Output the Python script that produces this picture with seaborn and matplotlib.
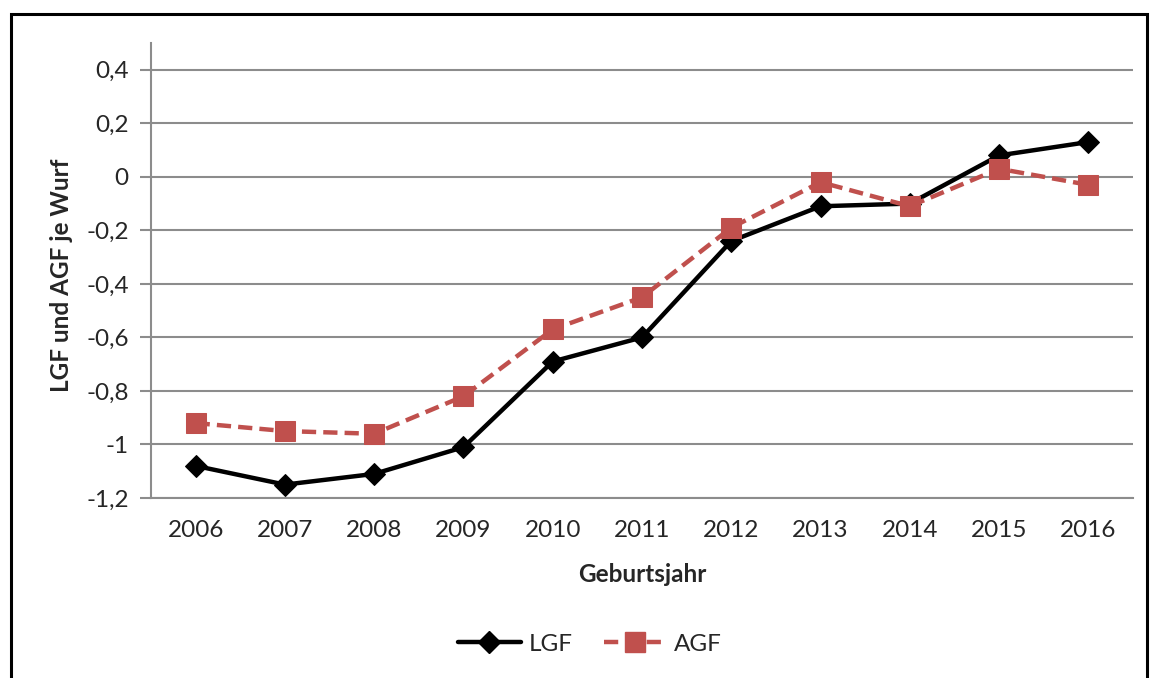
import numpy as np
import pandas as pd
import matplotlib
matplotlib.use("Agg")
import matplotlib.pyplot as plt
import seaborn as sns
from matplotlib.patches import Rectangle
from matplotlib.lines import Line2D

# Data
years = [2006, 2007, 2008, 2009, 2010, 2011, 2012, 2013, 2014, 2015, 2016]
lgf = [-1.08, -1.15, -1.11, -1.01, -0.69, -0.60, -0.24, -0.11, -0.10, 0.08, 0.13]
agf = [-0.92, -0.95, -0.96, -0.82, -0.57, -0.45, -0.19, -0.02, -0.11, 0.03, -0.03]
y_ticks = [-1.2, -1.0, -0.8, -0.6, -0.4, -0.2, 0.0, 0.2, 0.4]
y_labels = ["-1,2", "-1", "-0,8", "-0,6", "-0,4", "-0,2", "0", "0,2", "0,4"]

sns.set_style("white")
plt.rcParams["font.family"] = ["Lato", "DejaVu Sans"]

red = "#C0504D"
grid = "#8c8c8c"
fs = 17.5

fig = plt.figure(figsize=(11.5, 6.78), dpi=100)
ax = fig.add_axes([151 / 1150, 1 - 498 / 678, (1133 - 151) / 1150, (498 - 43) / 678])

df = pd.DataFrame({"Jahr": years, "LGF": lgf, "AGF": agf})

sns.lineplot(data=df, x="Jahr", y="LGF", ax=ax, color="black", lw=3.2,
             marker="D", markersize=11, markeredgecolor="black", zorder=3)
sns.lineplot(data=df, x="Jahr", y="AGF", ax=ax, color=red, lw=3.2,
             marker="s", markersize=14, markeredgecolor=red, zorder=4,
             linestyle=(0, (3.2, 1.6)))

ax.set_xlim(2005.5, 2016.5)
ax.set_ylim(-1.2, 0.5)
ax.set_xticks(years)
ax.set_xticklabels([str(y) for y in years], fontsize=fs)
ax.set_yticks(y_ticks)
ax.set_yticklabels(y_labels, fontsize=fs)
ax.yaxis.grid(True, color=grid, lw=1.5)
ax.set_axisbelow(True)
ax.tick_params(axis="y", length=8, width=1.5, color=grid, pad=8, left=True)
ax.tick_params(axis="x", length=0, pad=16)

for s in ["top", "right"]:
    ax.spines[s].set_visible(False)
for s in ["left", "bottom"]:
    ax.spines[s].set_color(grid)
    ax.spines[s].set_linewidth(1.5)

ax.set_xlabel("Geburtsjahr", fontsize=fs, fontweight="bold")
ax.xaxis.set_label_coords(0.5, (498 - 563) / 455)
ax.set_ylabel("LGF und AGF je Wurf", fontsize=fs, fontweight="bold")
ax.yaxis.set_label_coords((73 - 151) / 982, 0.49)

handles = [
    Line2D([0], [0], color="black", lw=3.2, marker="D", markersize=11),
    Line2D([0], [0], color=red, lw=3.2, marker="s", markersize=14,
           linestyle=(0, (3.2, 1.6))),
]
fig.legend(handles, ["LGF", "AGF"], loc="center", bbox_to_anchor=(590 / 1150, 1 - 644 / 678),
           ncol=2, frameon=False, fontsize=fs, handlelength=2.6, columnspacing=1.3,
           handletextpad=0.3)

fig.patches.append(Rectangle((11 / 1150, -0.05), (1147 - 11) / 1150, 1 - 14 / 678 + 0.05,
                             transform=fig.transFigure, fill=False, edgecolor="black",
                             lw=2.2, zorder=10))

fig.savefig("out.png", dpi=100)
